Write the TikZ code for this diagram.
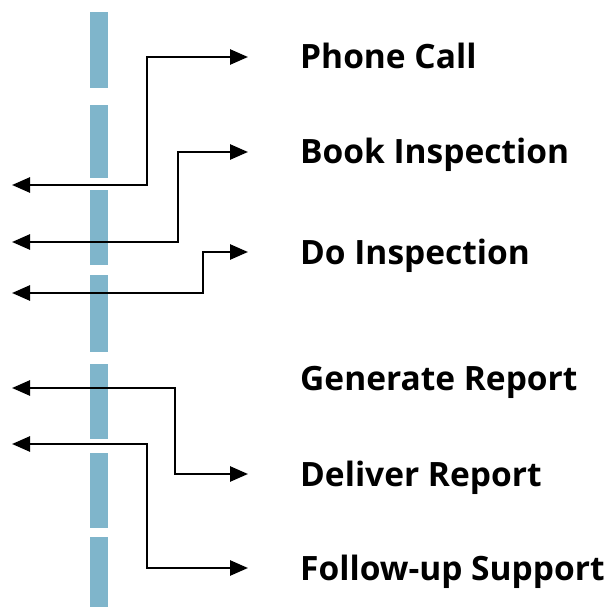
\documentclass[tikz,border=0pt]{standalone}
\usepackage{fontspec}
\setmainfont{Open Sans}
\usepackage{tikz}
\usetikzlibrary{arrows.meta}

\definecolor{lanecol}{RGB}{127,181,203}

\begin{document}
\begin{tikzpicture}[
    x=1pt, y=-1pt,
    lbl/.style={anchor=west, inner sep=0pt, text height=24pt, text depth=0pt, font=\fontsize{33.5}{38}\selectfont\bfseries},
    arr/.style={{Triangle[length=18pt,width=15pt]}-{Triangle[length=18pt,width=15pt]}, line width=2.6pt, black},
    lane/.style={fill=lanecol}
]
\useasboundingbox (0,0) rectangle (616,607);

% --- DASHED LANE ---
\foreach \a/\b in {12/88, 105/178, 190/265, 275/352, 364/439, 453/528, 537/607}
    \fill[lane] (90,\a) rectangle (108,\b);

% --- STEPS ---
\node[lbl] (call) at (300,57) {Phone Call};
\node[lbl] (book) at (300,152) {Book Inspection};
\node[lbl] (doins) at (300,252) {Do Inspection};
\node[lbl] (gen) at (300,378) {Generate Report};
\node[lbl] (deliver) at (300,474) {Deliver Report};
\node[lbl] (follow) at (300,568) {Follow-up Support};

% --- FREE ENDS AND KNEES ---
\coordinate (callL) at (12,185);   \coordinate (callK) at (147,57);
\coordinate (bookL) at (12,242);   \coordinate (bookK) at (178,152);
\coordinate (doinsL) at (12,293);  \coordinate (doinsK) at (203,252);
\coordinate (genL) at (12,388);    \coordinate (genK) at (175,474);
\coordinate (followL) at (12,444); \coordinate (followK) at (147,568);

% --- CONNECTIONS ---
\draw[arr, shorten >=52pt] (callL) -| (callK) |- (call.west);
\draw[arr, shorten >=52pt] (bookL) -| (bookK) |- (book.west);
\draw[arr, shorten >=52pt] (doinsL) -| (doinsK) |- (doins.west);
\draw[arr, shorten >=52pt] (genL) -| (genK) |- (deliver.west);
\draw[arr, shorten >=52pt] (followL) -| (followK) |- (follow.west);

\end{tikzpicture}
\end{document}
